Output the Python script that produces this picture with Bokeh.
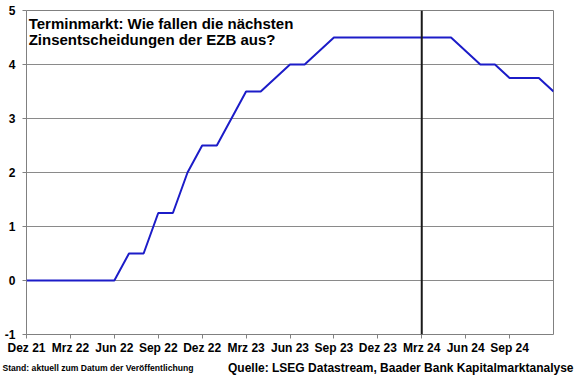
from bokeh.plotting import figure
from bokeh.models import Range1d, FixedTicker, Span, Label, Title, ColumnDataSource
from bokeh.embed import file_html
from bokeh.resources import INLINE

# Monthly observations, Dez 21 .. Dez 24 (month index 0..36)
months = ["Dez 21", "Jan 22", "Feb 22", "Mrz 22", "Apr 22", "Mai 22", "Jun 22", "Jul 22",
          "Aug 22", "Sep 22", "Okt 22", "Nov 22", "Dez 22", "Jan 23", "Feb 23", "Mrz 23",
          "Apr 23", "Mai 23", "Jun 23", "Jul 23", "Aug 23", "Sep 23", "Okt 23", "Nov 23",
          "Dez 23", "Jan 24", "Feb 24", "Mrz 24", "Apr 24", "Mai 24", "Jun 24", "Jul 24",
          "Aug 24", "Sep 24", "Okt 24", "Nov 24", "Dez 24"]
rate = [0, 0, 0, 0, 0, 0, 0, 0.5, 0.5, 1.25, 1.25, 2.0, 2.5, 2.5, 3.0, 3.5, 3.5, 3.75,
        4.0, 4.0, 4.25, 4.5, 4.5, 4.5, 4.5, 4.5, 4.5, 4.5, 4.5, 4.5, 4.25, 4.0, 4.0,
        3.75, 3.75, 3.75, 3.5]
tick_labels = ["Dez 21", "Mrz 22", "Jun 22", "Sep 22", "Dez 22", "Mrz 23", "Jun 23",
               "Sep 23", "Dez 23", "Mrz 24", "Jun 24", "Sep 24"]
y_ticks = [-1, 0, 1, 2, 3, 4, 5]
marker_month = "Mrz 24"
title_lines = ["Terminmarkt: Wie fallen die nächsten", "Zinsentscheidungen der EZB aus?"]
footer_left = "Stand: aktuell zum Datum der Veröffentlichung"
footer_right = "Quelle: LSEG Datastream, Baader Bank Kapitalmarktanalyse"

x = list(range(len(months)))
src = ColumnDataSource(dict(x=x, y=rate))

p = figure(width=580, height=375, output_backend="svg", toolbar_location=None,
           x_range=Range1d(0, len(months) - 1), y_range=Range1d(-1, 5),
           min_border_left=26, min_border_right=27, min_border_top=10, min_border_bottom=36)

p.outline_line_color = "#808080"
p.outline_line_width = 1
p.background_fill_color = "white"
p.border_fill_color = "white"

tick_pos = [months.index(t) for t in tick_labels]
p.xaxis.ticker = FixedTicker(ticks=tick_pos)
p.xaxis.major_label_overrides = {i: t for i, t in zip(tick_pos, tick_labels)}
p.yaxis.ticker = FixedTicker(ticks=y_ticks)
p.yaxis.major_label_overrides = {v: str(v) for v in y_ticks}

for ax in (p.xaxis, p.yaxis):
    ax.axis_line_color = None
    ax.minor_tick_line_color = None
    ax.major_tick_line_color = "#808080"
    ax.major_tick_in = 0
    ax.major_tick_out = 4
    ax.major_label_text_font = "Liberation Sans"
    ax.major_label_text_font_style = "bold"
    ax.major_label_text_font_size = "12px"
    ax.major_label_text_color = "black"
p.xaxis.major_label_standoff = 2
p.yaxis.major_label_standoff = 7

p.xgrid.grid_line_color = None
p.ygrid.grid_line_color = "#8a8a8a"
p.ygrid.grid_line_width = 1

p.line("x", "y", source=src, line_color="#1c1cc8", line_width=2)

p.add_layout(Span(location=months.index(marker_month), dimension="height",
                  line_color="#1a1a1a", line_width=2))

for t, yb in zip(title_lines, [4.756, 4.464]):
    p.add_layout(Label(x=0.15, y=yb, text=t,
                       text_font="Liberation Sans", text_font_style="bold",
                       text_font_size="15px", text_color="black",
                       text_baseline="alphabetic"))

# footers (both on the same line below the axis)
p.add_layout(Title(text=footer_right, align="right", offset=-20, standoff=2,
                   text_font="Liberation Sans", text_font_style="bold",
                   text_font_size="12px", text_color="black"), "below")
p.add_layout(Title(text=footer_left, align="left", offset=-24, standoff=-25,
                   vertical_align="top",
                   text_font="Liberation Sans", text_font_style="bold",
                   text_font_size="8.6px", text_color="black"), "below")

open("out.html", "w").write(file_html(p, INLINE))
